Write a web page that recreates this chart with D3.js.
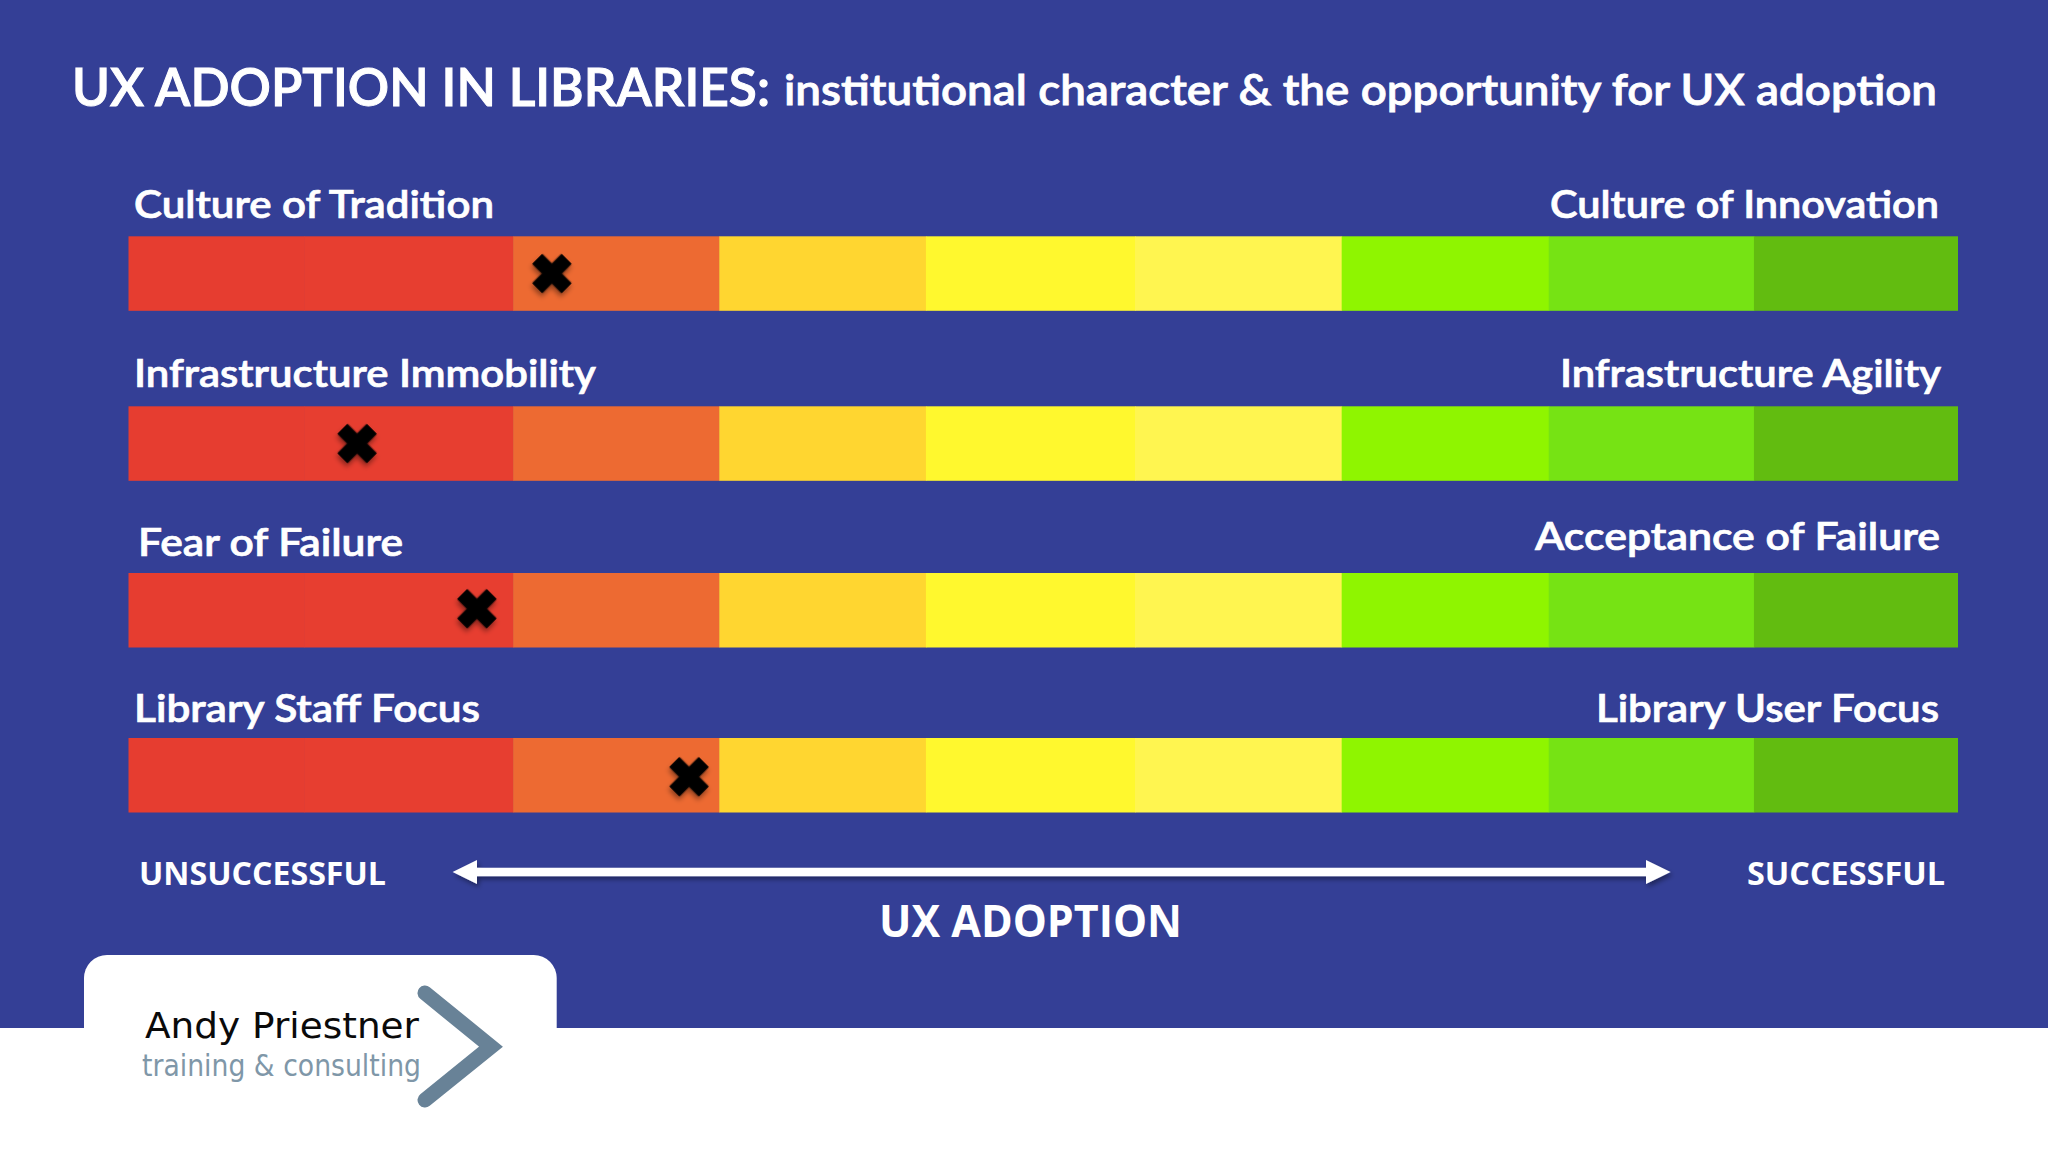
<!DOCTYPE html>
<html>
<head>
<meta charset="utf-8">
<script src="https://cdn.jsdelivr.net/npm/d3@7"></script>
<style>
  html, body { margin: 0; padding: 0; background: #fff; }
  svg { display: block; }
</style>
</head>
<body>
<figure style="margin:0"></figure>
<script>
// values, 0-100 along the scale
const leftLabels = ["Culture of Tradition", "Infrastructure Immobility", "Fear of Failure", "Library Staff Focus"];
const rightLabels = ["Culture of Innovation", "Infrastructure Agility", "Acceptance of Failure", "Library User Focus"];
const markerValues = [23.15, 12.5, 19.05, 30.65];
const bandStarts = [0, 9.6, 21.03, 32.3, 43.6, 55.03, 66.33, 77.65, 88.87];
const bandEnds = [9.6, 21.03, 32.3, 43.6, 55.03, 66.33, 77.65, 88.87, 100];
const bandColors = ["#e63d30", "#e73e30", "#ed6a32", "#ffd630", "#fff82e", "#fff550", "#8ff500", "#76e314", "#62bc10"];

function buildChart() {
    const width = 2048, height = 1152;
    const barHeight = 74.5;
    const blue = "#343f96";
    const headFont = "Lato, 'Open Sans', sans-serif";
    const sideFont = "'Open Sans', 'Noto Sans', sans-serif";

    const svg = d3.select("figure")
        .append("svg")
        .attr("width", width)
        .attr("height", height)
        .attr("viewBox", "0 0 " + width + " " + height);

    const defs = svg.append("defs");
    const shadow = defs.append("filter").attr("id", "shadow")
        .attr("x", "-30%").attr("y", "-30%").attr("width", "170%").attr("height", "170%");
    shadow.append("feDropShadow")
        .attr("dx", 2).attr("dy", 3).attr("stdDeviation", 2.5)
        .attr("flood-color", "#000").attr("flood-opacity", 0.4);

    // background, blue down to the white strip
    svg.append("rect").attr("width", width).attr("height", height).attr("fill", "#ffffff");
    svg.append("rect").attr("width", width).attr("height", 1028).attr("fill", blue);

    const xScale = d3.scaleLinear().domain([0, 100]).range([128.5, 1957.5]);
    const yScale = d3.scaleOrdinal().domain(leftLabels).range([236.3, 406.3, 573, 738]);
    const bands = d3.range(bandColors.length);
    const markerNudge = [0, 0, -1.5, 1.5]; // the crosses are not quite centred in the picture

    const rows = svg.selectAll("g.row")
        .data(leftLabels)
        .enter()
        .append("g")
        .attr("class", "row")
        .attr("transform", d => "translate(0," + yScale(d) + ")");

    rows.selectAll("rect")
        .data(bands)
        .enter()
        .append("rect")
        .attr("x", i => xScale(bandStarts[i]))
        .attr("width", i => xScale(bandEnds[i]) - xScale(bandStarts[i]) + 0.5)
        .attr("height", barHeight)
        .attr("fill", i => bandColors[i]);

    // the X markers
    const cross = d3.symbol().type(d3.symbolCross).size(920);
    rows.append("path")
        .attr("d", cross())
        .attr("fill", "#000")
        .attr("stroke", "#000")
        .attr("stroke-width", 1)
        .attr("stroke-linejoin", "round")
        .attr("filter", "url(#shadow)")
        .attr("transform", (d, i) => "translate(" + xScale(markerValues[i]) + "," + (barHeight / 2 + markerNudge[i]) + ") rotate(45)");

    function addText(str, x, y, len, size, weight, family, fill, thicken) {
        return svg.append("text")
            .text(str)
            .attr("x", x)
            .attr("y", y)
            .attr("textLength", len)
            .attr("lengthAdjust", "spacingAndGlyphs")
            .attr("font-size", size)
            .attr("font-weight", weight)
            .attr("font-family", family)
            .attr("fill", fill)
            .attr("stroke", thicken ? fill : "none")
            .attr("stroke-width", thicken || 0);
    }

    addText("UX ADOPTION IN LIBRARIES:", 72, 105.5, 698, 51, 600, headFont, "#fff", 1);
    addText("institutional character & the opportunity for UX adoption", 784, 104.5, 1153, 43, 600, headFont, "#fff", 0.8);

    const leftPos = [[134, 218, 360], [134, 387, 462], [138, 556, 265], [134, 721.5, 346]];
    const rightPos = [[1550, 218, 389], [1560, 387, 381], [1535, 550, 405], [1596, 721.5, 343]];
    leftLabels.forEach((d, i) => addText(d, leftPos[i][0], leftPos[i][1], leftPos[i][2], 38, 600, headFont, "#fff", 0.7));
    rightLabels.forEach((d, i) => addText(d, rightPos[i][0], rightPos[i][1], rightPos[i][2], 38, 600, headFont, "#fff", 0.7));

    addText("UNSUCCESSFUL", 139, 885, 247, 33, 700, sideFont, "#fff");
    addText("SUCCESSFUL", 1747, 885, 198, 33, 700, sideFont, "#fff");
    addText("UX ADOPTION", 879, 937, 303, 45, 700, sideFont, "#fff");

    // double headed arrow
    const ay = 872, shaft = 4.2, head = 12;
    const arrowPts = [[452.6, ay], [477, ay - head], [477, ay - shaft], [1646, ay - shaft], [1646, ay - head],
        [1670.6, ay], [1646, ay + head], [1646, ay + shaft], [477, ay + shaft], [477, ay + head]];
    svg.append("path")
        .attr("d", d3.line()(arrowPts) + "Z")
        .attr("fill", "#fff")
        .attr("filter", "url(#shadow)");

    // logo tab
    svg.append("path")
        .attr("d", "M84,1040V978a23,23 0 0 1 23,-23H533.7a23,23 0 0 1 23,23V1040Z")
        .attr("fill", "#fff");
    addText("Andy Priestner", 145, 1038, 274, 35, 400, "'DejaVu Sans', sans-serif", "#0a0a0a");
    addText("training & consulting", 142, 1076, 279, 31, 400, "'DejaVu Sans', sans-serif", "#7f97a8");
    svg.append("path")
        .attr("d", d3.line()([[425, 993], [491, 1046.7], [425, 1100]]))
        .attr("fill", "none")
        .attr("stroke", "#688297")
        .attr("stroke-width", 15)
        .attr("stroke-linecap", "round")
        .attr("stroke-linejoin", "miter");
}

buildChart();
</script>
</body>
</html>
